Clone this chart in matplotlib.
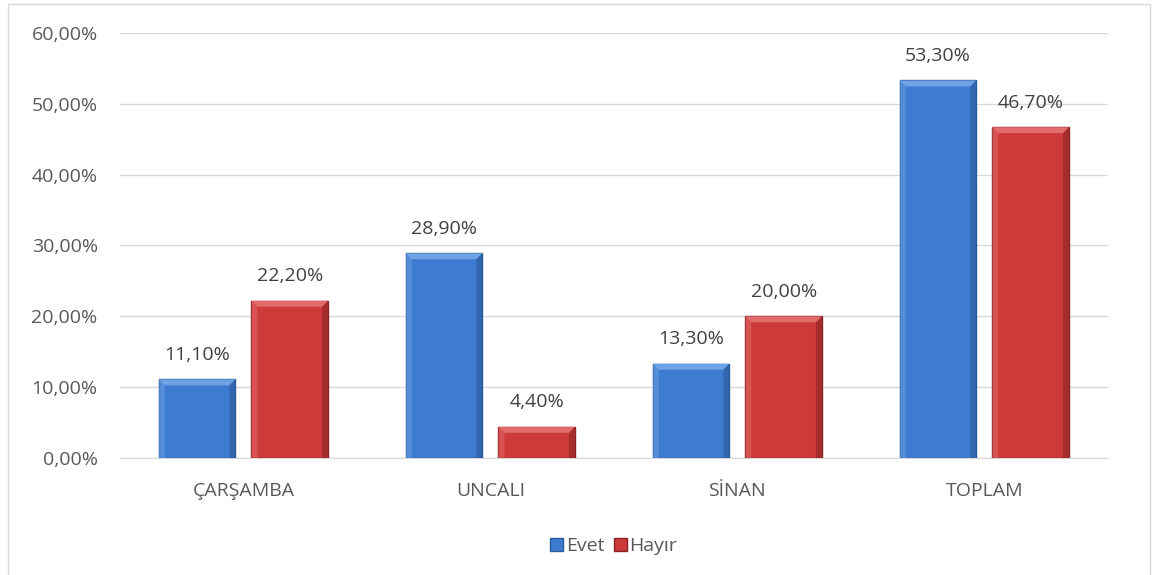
import matplotlib.pyplot as plt
import numpy as np
from matplotlib.patches import Rectangle, Polygon

# ==============================
# Veriler
# ==============================
kategoriler = ["ÇARŞAMBA", "UNCALI", "SİNAN", "TOPLAM"]
evet = [11.1, 28.9, 13.3, 53.3]
hayir = [22.2, 4.4, 20.0, 46.7]
seriler = ["Evet", "Hayır"]

plt.rcParams['font.family'] = ['Open Sans', 'DejaVu Sans']

fig = plt.figure(figsize=(11.6, 5.75), dpi=100)
ax = fig.add_axes([0.1034, 0.2035, 0.8516, 0.7391])

# kenarlik
fig.patches.append(Rectangle((8 / 1160, -0.01), 1142 / 1160, 1 - 4 / 575 + 0.01,
                             transform=fig.transFigure, fill=False,
                             edgecolor="#d9d9d9", linewidth=1))

x = np.arange(len(kategoriler))
w = 0.31
off = (w + 0.065) / 2

ax.set_ylim(0, 60)
ax.set_xlim(-0.5, 3.5)

b1 = ax.bar(x - off, evet, w, color="#3d7cd0", edgecolor="#2a5a9a", linewidth=1,
            label=seriler[0], zorder=3)
b2 = ax.bar(x + off, hayir, w, color="#cd3a3a", edgecolor="#8a2424", linewidth=1,
            label=seriler[1], zorder=3)

# ==============================
# Kabartma (bevel) efekti
# ==============================
dx = 6 * 4 / 988      # ~6 piksel (x)
dy = 6 * 60 / 425     # ~6 piksel (y)


def bevel(r, acik, koyu):
    x0, x1 = r.get_x(), r.get_x() + r.get_width()
    y0, y1 = 0, r.get_height()
    d = min(dy, y1 / 2)
    ust = [(x0, y1), (x1, y1), (x1 - dx, y1 - d), (x0 + dx, y1 - d)]
    sol = [(x0, y0), (x0, y1), (x0 + dx, y1 - d), (x0 + dx, y0)]
    sag = [(x1, y0), (x1, y1), (x1 - dx, y1 - d), (x1 - dx, y0)]
    ax.add_patch(Polygon(ust, closed=True, color=acik, zorder=4, linewidth=0))
    ax.add_patch(Polygon(sol, closed=True, color=acik, alpha=0.5, zorder=4, linewidth=0))
    ax.add_patch(Polygon(sag, closed=True, color=koyu, alpha=0.6, zorder=4, linewidth=0))


for r in b1:
    bevel(r, "#6ea2e4", "#2b5a98")
for r in b2:
    bevel(r, "#e36b6b", "#8e2424")

for bars, vals in ((b1, evet), (b2, hayir)):
    for r, v in zip(bars, vals):
        ax.text(r.get_x() + r.get_width() / 2, v + 2.2, f"{v:.2f}%".replace(".", ","),
                ha="center", va="bottom", fontsize=14, color="#404040")

ax.set_yticks(np.arange(0, 61, 10))
ax.set_yticklabels([f"{t:.2f}%".replace(".", ",") for t in np.arange(0, 61, 10)])
ax.set_xticks(x)
ax.set_xticklabels(kategoriler)
ax.tick_params(axis="both", length=0, labelsize=14, colors="#595959")
ax.tick_params(axis="y", pad=16)
ax.tick_params(axis="x", pad=17)
ax.grid(axis="y", color="#d9d9d9", linewidth=1, zorder=0)
for s in ["top", "right", "left"]:
    ax.spines[s].set_visible(False)
ax.spines["bottom"].set_color("#d9d9d9")

ax.legend(loc="upper center", bbox_to_anchor=(0.5, -0.145), ncol=2, frameon=False,
          fontsize=14, handlelength=0.65, handleheight=0.65, handletextpad=0.15,
          columnspacing=0.5, labelcolor="#595959")

fig.savefig("out.png", dpi=100)
